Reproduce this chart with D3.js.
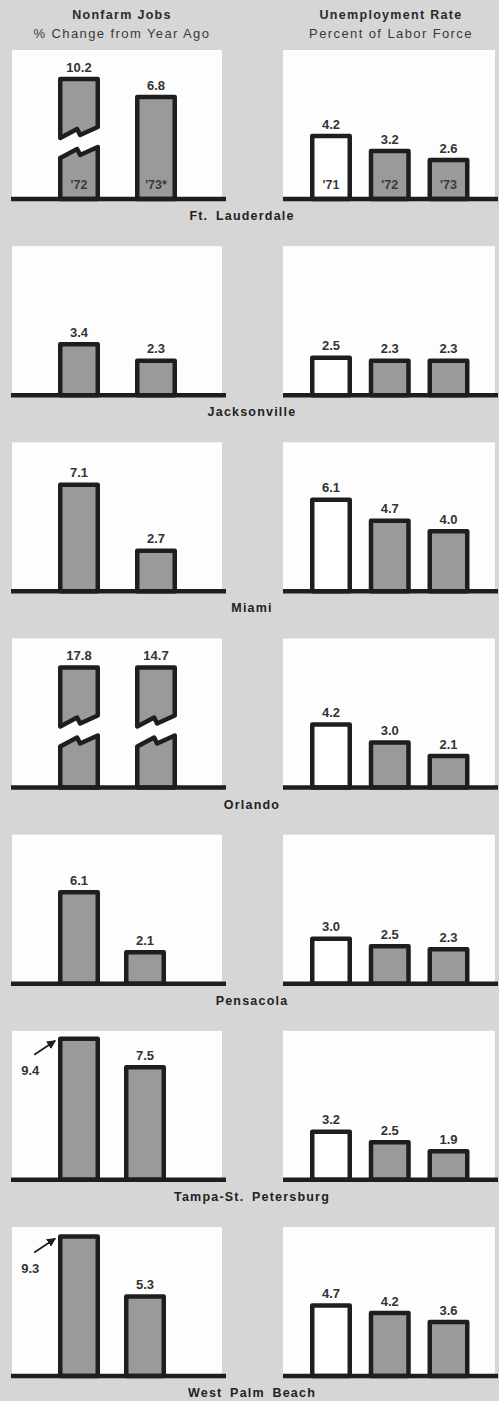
<!DOCTYPE html>
<html><head><meta charset="utf-8">
<script src="https://cdn.jsdelivr.net/npm/d3@7"></script>
<style>html,body{margin:0;padding:0;background:#d6d6d6;} svg{display:block}</style>
</head><body><svg id="c" width="499" height="1401"></svg>
<script>
// ---- data ----
const cities = ["Ft. Lauderdale","Jacksonville","Miami","Orlando","Pensacola","Tampa-St. Petersburg","West Palm Beach"];
const jobYears = ["'72","'73*"];
const jobs72 = [10.2, 3.4, 7.1, 17.8, 6.1, 9.4, 9.3];
const jobs73 = [6.8, 2.3, 2.7, 14.7, 2.1, 7.5, 5.3];
const unempYears = ["'71","'72","'73"];
const unemp71 = [4.2, 2.5, 6.1, 4.2, 3.0, 3.2, 4.7];
const unemp72 = [3.2, 2.3, 4.7, 3.0, 2.5, 2.5, 4.2];
const unemp73 = [2.6, 2.3, 4.0, 2.1, 2.3, 1.9, 3.6];
const headLeft = ["Nonfarm Jobs","% Change from Year Ago"];
const headRight = ["Unemployment Rate","Percent of Labor Force"];

// ---- layout ----
const W = 499, H = 1401;
const BG = "#d6d6d6", INK = "#1e1e1e", FILL = "#9a9a9a", TXT = "#333";
const SW = 4.5, BW = 37.5, PANEL_H = 149, BREAK = 10, CAP = 8;
const svg = d3.select("#c");
svg.append("rect").attr("width", W).attr("height", H).attr("fill", BG);

const defs = svg.append("defs");
defs.append("marker").attr("id","ah").attr("viewBox","0 0 10 10").attr("refX",9).attr("refY",5)
  .attr("markerWidth",5).attr("markerHeight",5).attr("orient","auto")
  .append("path").attr("d","M0,0L10,5L0,10z").attr("fill",INK);

const rowY = d3.scalePoint().domain(cities).range([199, 1376]);
const hScale = d3.scaleLinear().domain([0, 10]).range([0, 150]);
const xJobsA = d3.scalePoint().domain(jobYears).range([79, 156]);
const xJobsB = d3.scalePoint().domain(jobYears).range([79, 145]);
const xUnemp = d3.scalePoint().domain(unempYears).range([331, 448.5]);
const panels = [{x0: 12, x1: 222, l0: 11, l1: 226}, {x0: 283, x1: 495, l0: 283, l1: 498}];

const font = "'Liberation Sans', Arial, sans-serif";

// header
const hdr = svg.append("g").attr("font-family", font).attr("fill", TXT).attr("text-anchor","middle");
[[122, headLeft], [391, headRight]].forEach(([cx, lines]) => {
  hdr.append("text").attr("x", cx).attr("y", 19).attr("font-size", 12.5).attr("font-weight","bold")
    .attr("letter-spacing", 1.3).attr("fill", "#2a2a2a").text(lines[0]);
  hdr.append("text").attr("x", cx).attr("y", 38).attr("font-size", 13)
    .attr("letter-spacing", 1.4).attr("fill", "#3a3a3a").text(lines[1]);
});

function zig(x0, x1, yL) {
  const w = x1 - x0;
  return [[x0, yL], [x0 + 0.45 * w, yL - 9], [x0 + 0.53 * w, yL - 3], [x1, yL - 11]];
}

function drawBar(g, cx, base, v, fill) {
  const x0 = cx - BW / 2, x1 = cx + BW / 2;
  if (v > BREAK) {
    const top = base - hScale(CAP);
    const lo = zig(x0, x1, base - 41);
    const lower = [[x0, base], ...lo, [x1, base]];
    const up = zig(x0, x1, base - 61).reverse();
    const upper = [[x0, top], [x1, top], ...up];
    [lower, upper].forEach(pts => g.append("path")
      .attr("d", d3.line()(pts) + "Z").attr("fill", fill).attr("stroke", INK)
      .attr("stroke-width", SW).attr("stroke-linejoin", "round"));
    return top;
  }
  const top = base - hScale(v);
  g.append("path").attr("d", d3.line()([[x0, base], [x0, top], [x1, top], [x1, base]]) + "Z")
    .attr("fill", fill).attr("stroke", INK).attr("stroke-width", SW).attr("stroke-linejoin", "round");
  return top;
}

function valueLabel(g, cx, top, base, v) {
  const panelTop = base - PANEL_H;
  if (top - panelTop < 18) {
    const xl = cx - BW / 2 - 2;
    g.append("line").attr("x1", xl - 24).attr("y1", top + 16).attr("x2", xl - 3).attr("y2", top + 2)
      .attr("stroke", INK).attr("stroke-width", 1.8).attr("marker-end", "url(#ah)");
    g.append("text").attr("x", xl - 28).attr("y", top + 36).attr("text-anchor","middle").text(v.toFixed(1));
  } else {
    g.append("text").attr("x", cx).attr("y", top - 7.5).attr("text-anchor","middle").text(v.toFixed(1));
  }
}

cities.forEach((city, i) => {
  const base = rowY(city);
  const g = svg.append("g").attr("font-family", font).attr("font-size", 13).attr("font-weight","bold").attr("fill", TXT);
  panels.forEach(p => g.append("rect").attr("x", p.x0).attr("y", base - PANEL_H)
    .attr("width", p.x1 - p.x0).attr("height", PANEL_H).attr("fill", "#fdfdfd"));

  const xJ = i >= 4 ? xJobsB : xJobsA;
  const jv = [jobs72[i], jobs73[i]];
  jobYears.forEach((yr, j) => {
    const cx = xJ(yr);
    const top = drawBar(g, cx, base, jv[j], FILL);
    valueLabel(g, cx, top, base, jv[j]);
    if (i === 0) g.append("text").attr("x", cx).attr("y", base - 10).attr("text-anchor","middle")
      .attr("font-size", 12.5).attr("fill", "#3a3a3a").text(yr);
  });

  const uv = [unemp71[i], unemp72[i], unemp73[i]];
  unempYears.forEach((yr, j) => {
    const cx = xUnemp(yr);
    const top = drawBar(g, cx, base, uv[j], j === 0 ? "#fff" : FILL);
    valueLabel(g, cx, top, base, uv[j]);
    if (i === 0) g.append("text").attr("x", cx).attr("y", base - 10).attr("text-anchor","middle")
      .attr("font-size", 12.5).attr("fill", "#3a3a3a").text(yr);
  });

  panels.forEach(p => g.append("line").attr("x1", p.l0).attr("x2", p.l1).attr("y1", base).attr("y2", base)
    .attr("stroke", INK).attr("stroke-width", 4.5));

  g.append("text").attr("x", i === 0 ? 242 : 252).attr("y", base + 21).attr("text-anchor","middle")
    .attr("font-size", 12.5).attr("letter-spacing", 1.2).attr("word-spacing", 3).attr("fill","#222").text(city);
});
</script></body></html>
